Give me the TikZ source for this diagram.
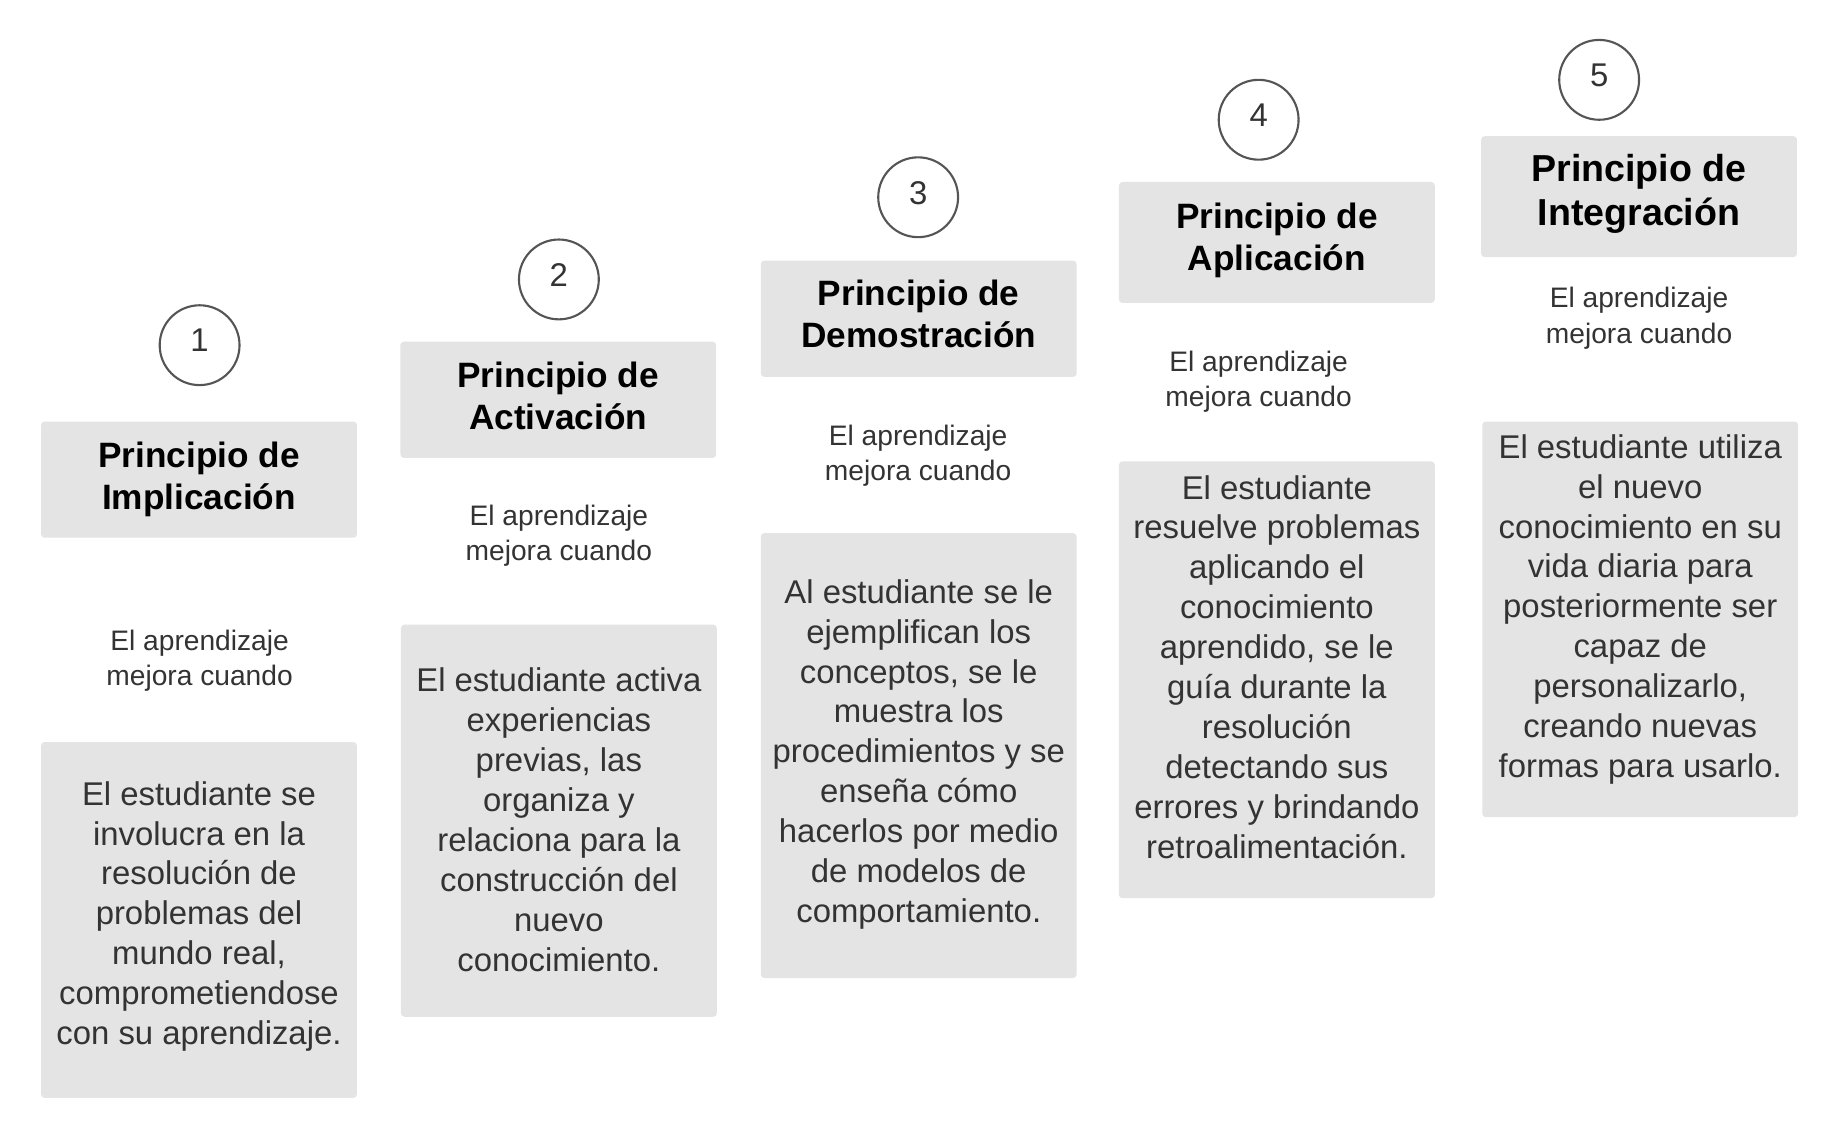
\documentclass[tikz,border=0pt]{standalone}
\usepackage{fontspec}
\setmainfont{Liberation Sans}
\usepackage{xcolor}
\definecolor{boxgray}{HTML}{E4E4E4}
\definecolor{txtgray}{HTML}{333333}
\definecolor{ringgray}{HTML}{555555}

\begin{document}
\begin{tikzpicture}[
  x=1pt, y=-1pt,
  card/.style={fill=boxgray, rounded corners=3pt, minimum width=269pt, inner sep=0pt},
  head/.style={align=center, font=\fontsize{30}{36}\selectfont\bfseries, text=black},
  body/.style={align=center, font=\fontsize{28}{34}\selectfont, text=txtgray},
  note/.style={align=center, font=\fontsize{24}{30}\selectfont, text=txtgray},
  num/.style={circle, draw=ringgray, line width=1.8pt, fill=white, minimum size=68pt,
    inner sep=0pt, text depth=8pt, font=\fontsize{28}{34}\selectfont, text=txtgray}
]
  \useasboundingbox (0,0) rectangle (1568,971);

  % 1
  \node[num] (n1) at (170,294) {1};
  \node[card, minimum height=99pt] (hc1) at (169.5,408.5) {};
  \node[head] (h1) at (169.5,408) {Principio de\\Implicación};
  \node[note] (t1) at (170,563) {El aprendizaje\\mejora cuando};
  \node[card, minimum height=303pt] (bc1) at (169.5,783.5) {};
  \node[body] (b1) at (169.5,780.5)
    {El estudiante se\\involucra en la\\resolución de\\problemas del\\mundo real,\\comprometiendose\\con su aprendizaje.};

  % 2
  \node[num] (n2) at (476,238) {2};
  \node[card, minimum height=99pt] (hc2) at (475.5,340.5) {};
  \node[head] (h2) at (475.5,337) {Principio de\\Activación};
  \node[note] (t2) at (476,456) {El aprendizaje\\mejora cuando};
  \node[card, minimum height=334pt] (bc2) at (476,699) {};
  \node[body] (b2) at (476,698)
    {El estudiante activa\\experiencias\\previas, las\\organiza y\\relaciona para la\\construcción del\\nuevo\\conocimiento.};

  % 3
  \node[num] (n3) at (782,168) {3};
  \node[card, minimum height=99pt] (hc3) at (782.5,271.5) {};
  \node[head] (h3) at (782.5,267.5) {Principio de\\Demostración};
  \node[note] (t3) at (782,388) {El aprendizaje\\mejora cuando};
  \node[card, minimum height=379pt] (bc3) at (782.5,643.5) {};
  \node[body] (b3) at (782.5,642.5)
    {Al estudiante se le\\ejemplifican los\\conceptos, se le\\muestra los\\procedimientos y se\\enseña cómo\\hacerlos por medio\\de modelos de\\comportamiento.};

  % 4
  \node[num] (n4) at (1072,102) {4};
  \node[card, minimum height=103pt] (hc4) at (1087.5,206.5) {};
  \node[head] (h4) at (1087.5,205) {Principio de\\Aplicación};
  \node[note] (t4) at (1072,325) {El aprendizaje\\mejora cuando};
  \node[card, minimum height=372pt] (bc4) at (1087.5,579) {};
  \node[body] (b4) at (1087.5,568)
    {El estudiante\\resuelve problemas\\aplicando el\\conocimiento\\aprendido, se le\\guía durante la\\resolución\\detectando sus\\errores y brindando\\retroalimentación.};

  % 5
  \node[num] (n5) at (1362,68) {5};
  \node[card, minimum height=103pt] (hc5) at (1396,167.5) {};
  \node[head, font=\fontsize{32}{38}\selectfont\bfseries] (h5) at (1396,165) {Principio de\\Integración};
  \node[note] (t5) at (1396,271) {El aprendizaje\\mejora cuando};
  \node[card, minimum height=337pt] (bc5) at (1397,527.5) {};
  \node[body] (b5) at (1397,519)
    {El estudiante utiliza\\el nuevo\\conocimiento en su\\vida diaria para\\posteriormente ser\\capaz de\\personalizarlo,\\creando nuevas\\formas para usarlo.};
\end{tikzpicture}
\end{document}
